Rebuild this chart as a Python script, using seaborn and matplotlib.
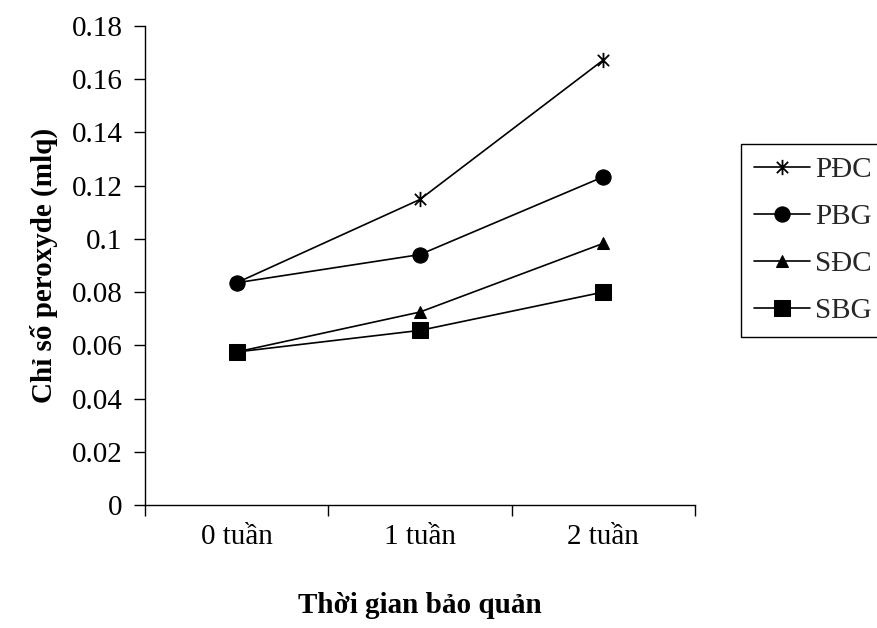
import matplotlib
matplotlib.use("Agg")
import matplotlib.pyplot as plt
from matplotlib.path import Path
import numpy as np
import pandas as pd
import seaborn as sns

sns.set_theme(style="white")
plt.rcParams["font.family"] = ["Liberation Serif", "DejaVu Serif"]

# Storage time categories
weeks = ["0 tuần", "1 tuần", "2 tuần"]

# Peroxide index per sample group
pdc = [0.0835, 0.1148, 0.1672]
pbg = [0.0835, 0.0941, 0.1233]
sdc = [0.0575, 0.0725, 0.0983]
sbg = [0.0575, 0.0656, 0.0800]

series_names = ["PĐC", "PBG", "SĐC", "SBG"]
series_vals = [pdc, pbg, sdc, sbg]

# Asterisk-like marker: an "x" crossed by a vertical bar
star = Path(
    [(-1, -1), (1, 1), (-1, 1), (1, -1), (0, -1.35), (0, 1.35)],
    [Path.MOVETO, Path.LINETO, Path.MOVETO, Path.LINETO, Path.MOVETO, Path.LINETO],
)
marker_styles = {
    "PĐC": dict(marker=star, markersize=11, markeredgewidth=1.3, markerfacecolor="none"),
    "PBG": dict(marker="o", markersize=11),
    "SĐC": dict(marker="^", markersize=9),
    "SBG": dict(marker="s", markersize=12),
}

df = pd.DataFrame(
    [(name, i, v) for name, vals in zip(series_names, series_vals) for i, v in enumerate(vals)],
    columns=["series", "pos", "value"],
)

fig = plt.figure(figsize=(8.77, 6.28), dpi=100)
ax = fig.add_axes([0.1653, 0.1959, 0.627, 0.7627])

for name in series_names:
    sub = df[df["series"] == name]
    sns.lineplot(
        data=sub, x="pos", y="value", ax=ax, color="black", linewidth=1.2,
        label=name, markeredgecolor="black", **marker_styles[name],
    )

ax.set_xlim(-0.5, 2.5)
ax.set_ylim(0, 0.18)
ax.set_yticks(np.arange(0, 0.181, 0.02))
ax.set_yticklabels(["0", "0.02", "0.04", "0.06", "0.08", "0.1", "0.12", "0.14", "0.16", "0.18"])

# Category boundaries carry the tick marks, category centres carry the labels
ax.set_xticks([-0.5, 0.5, 1.5, 2.5])
ax.set_xticklabels([])
ax.set_xticks([0, 1, 2], minor=True)
ax.set_xticklabels(weeks, minor=True)
ax.tick_params(axis="x", which="major", direction="out", length=8, width=1, color="black", bottom=True)
ax.tick_params(axis="x", which="minor", length=0, pad=14, labelsize=21, labelcolor="black")
ax.tick_params(axis="y", direction="out", length=8, width=1, color="black", left=True,
               labelsize=21, labelcolor="black", pad=8)

for s in ["top", "right"]:
    ax.spines[s].set_visible(False)
for s in ["left", "bottom"]:
    ax.spines[s].set_color("black")
    ax.spines[s].set_linewidth(1)

ax.set_xlabel("Thời gian bảo quản", fontsize=21, fontweight="bold", color="black", labelpad=30)
ax.set_ylabel("Chỉ số peroxyde (mlq)", fontsize=21, fontweight="bold", color="black", labelpad=10)
ax.grid(False)

ax.legend(
    loc="upper left", bbox_to_anchor=(0.845, 0.771), bbox_transform=fig.transFigure,
    fontsize=21, frameon=True, fancybox=False, edgecolor="black", framealpha=1,
    handlelength=1.9, handletextpad=0.2, borderpad=0.45, labelspacing=0.7,
    borderaxespad=0,
).get_frame().set_linewidth(1)

fig.savefig("out.png", dpi=100)
